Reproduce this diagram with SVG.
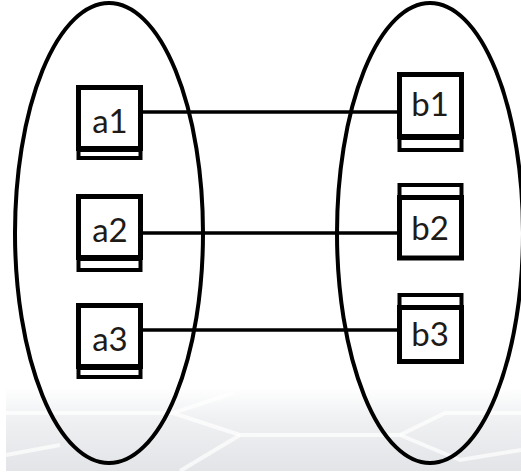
<svg xmlns="http://www.w3.org/2000/svg" width="521" height="474" viewBox="0 0 521 474">
<defs>
<linearGradient id="bg" x1="0" y1="0" x2="0" y2="1">
<stop offset="0" stop-color="#ffffff"/>
<stop offset="0.35" stop-color="#f0f1f3"/>
<stop offset="1" stop-color="#e2e4e7"/>
</linearGradient>
<style>
.set{fill:none;stroke:#000;stroke-width:4}
.box{fill:#fff;stroke:#000;stroke-width:5}
.strip{fill:#fff;stroke:#000;stroke-width:4}
.lbl{font-family:Lato,"Open Sans","Liberation Sans",sans-serif;font-size:33px;fill:#1e1a16;text-anchor:middle}
.edge{stroke:#000;stroke-width:3.5;fill:none}
.streak{stroke:#fff;stroke-width:4;fill:none;opacity:0.7}
</style>
</defs>
<rect width="521" height="474" fill="#fff"/>
<g id="background">
<rect x="6" y="388" width="515" height="83" fill="url(#bg)"/>
<polyline class="streak" points="6,413 173,413 233,393"/>
<polyline class="streak" points="173,413 240,435 400,435 445,413 521,413"/>
<polyline class="streak" points="240,435 180,471"/>
<polyline class="streak" points="400,435 460,460 521,450"/>
<polyline class="streak" points="6,455 60,445"/>
</g>
<g id="set-a"><ellipse class="set" cx="109" cy="233" rx="94" ry="230"/></g>
<g id="set-b"><ellipse class="set" cx="430" cy="233" rx="93" ry="230"/></g>
<g id="connectors">
<line class="edge" x1="143" y1="112" x2="397" y2="112"/>
<line class="edge" x1="143" y1="233" x2="397" y2="233"/>
<line class="edge" x1="143" y1="330" x2="397" y2="330"/>
</g>
<g id="a1">
<rect class="strip" x="78.5" y="150" width="62" height="8"/>
<rect class="box" x="78.5" y="87.5" width="62" height="61"/>
<text class="lbl" x="110" y="133">a1</text>
</g>
<g id="a2">
<rect class="strip" x="78.5" y="259" width="62" height="11"/>
<rect class="box" x="78.5" y="196.5" width="62" height="61"/>
<text class="lbl" x="110" y="242">a2</text>
</g>
<g id="a3">
<rect class="strip" x="78.5" y="368" width="62" height="9"/>
<rect class="box" x="78.5" y="305.5" width="62" height="61"/>
<text class="lbl" x="110" y="351">a3</text>
</g>
<g id="b1">
<rect class="strip" x="399.5" y="138" width="62" height="12"/>
<rect class="box" x="399.5" y="74.5" width="62" height="62"/>
<text class="lbl" x="430" y="116">b1</text>
</g>
<g id="b2">
<rect class="strip" x="399.5" y="185" width="62" height="12"/>
<rect class="box" x="399.5" y="197.5" width="62" height="60.5"/>
<text class="lbl" x="430" y="240">b2</text>
</g>
<g id="b3">
<rect class="strip" x="399.5" y="295" width="62" height="12"/>
<rect class="box" x="399.5" y="307.5" width="62" height="54"/>
<text class="lbl" x="430" y="346">b3</text>
</g>
</svg>
